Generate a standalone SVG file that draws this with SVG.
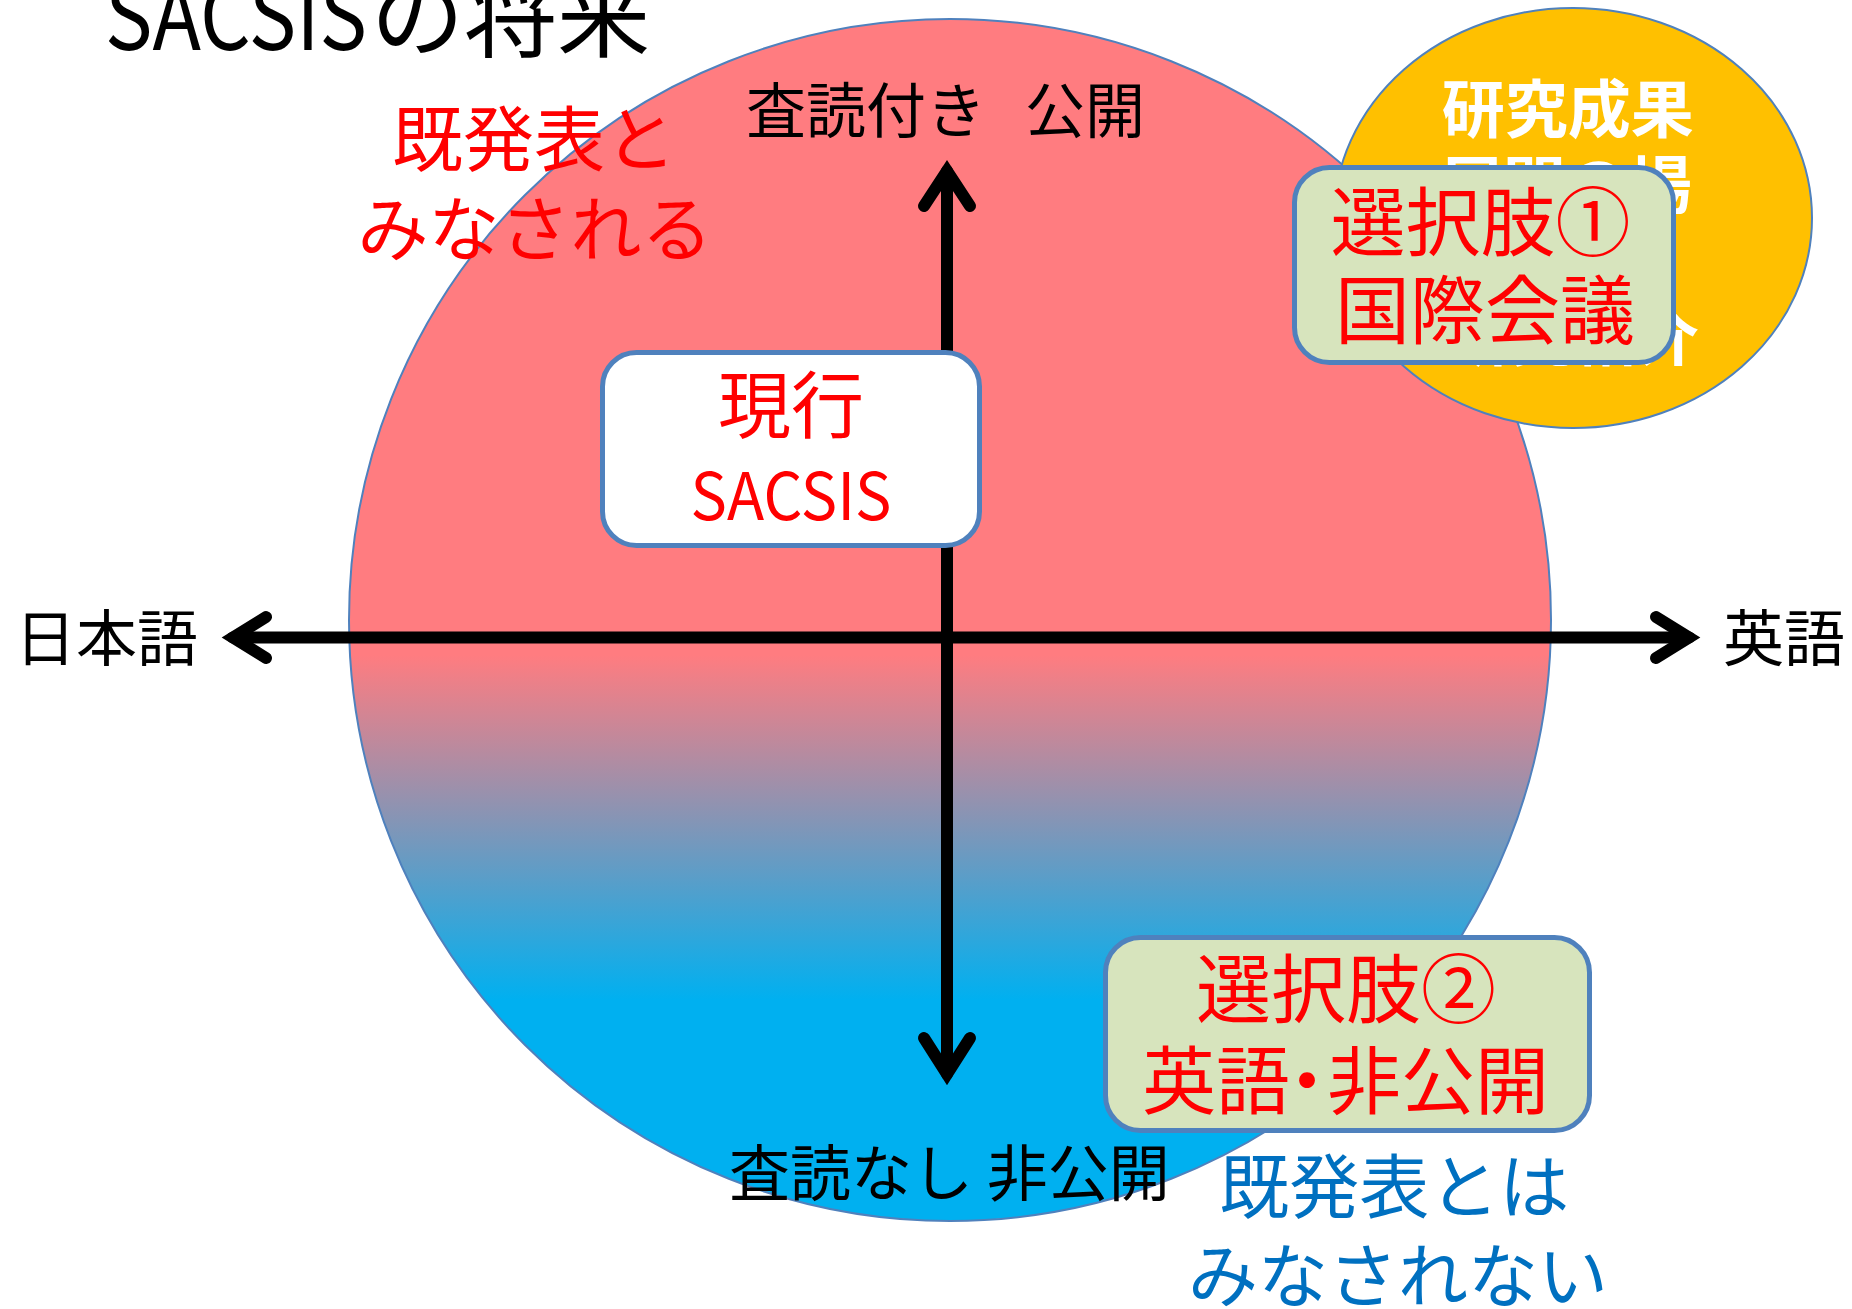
<svg xmlns="http://www.w3.org/2000/svg" width="1852" height="1309" viewBox="0 0 1852 1309">
  <defs>
    <linearGradient id="circleGrad" gradientUnits="userSpaceOnUse" x1="0" y1="655" x2="0" y2="1000">
      <stop offset="0" stop-color="#FF7C80"/>
      <stop offset="1" stop-color="#00B0F0"/>
    </linearGradient>
    <style>
      .t { font-family: "Noto Sans CJK JP", "Noto Sans", sans-serif; }
      .blk { fill: #000000; }
      .red { fill: #FF0000; }
      .blue { fill: #0070C0; }
      .wht { fill: #FFFFFF; font-weight: 700; }
      .mid { text-anchor: middle; }
      .axis { fill: none; stroke: #000000; stroke-width: 12; stroke-linecap: round; stroke-linejoin: miter; }
      .box { stroke: #4F81BD; stroke-width: 5; }
      .thin { stroke: #4F81BD; stroke-width: 2; }
    </style>
  </defs>
  <rect x="0" y="0" width="1852" height="1309" fill="#FFFFFF"/>

  <g id="title">
    <text class="t blk" x="105" y="50" font-size="93"><tspan textLength="262" lengthAdjust="spacingAndGlyphs">SACSIS</tspan><tspan x="371">の将来</tspan></text>
  </g>

  <g id="quadrant-circle">
    <circle cx="950" cy="620" r="601" fill="url(#circleGrad)" class="thin"/>
  </g>

  <g id="research-ellipse">
    <ellipse cx="1573" cy="218" rx="239" ry="210" fill="#FFC000" class="thin"/>
    <text class="t wht mid" font-size="63">
      <tspan x="1575" y="132">研究成果</tspan>
      <tspan x="1573" y="208">展開の場</tspan>
      <tspan x="1573" y="360">研究紹介</tspan>
    </text>
  </g>

  <g id="axes">
    <line class="axis" x1="233" y1="637.5" x2="1689" y2="637.5" stroke-linecap="butt"/>
    <polyline class="axis" points="266,617 233,637.5 266,658"/>
    <polyline class="axis" points="1656,617 1689,637.5 1656,658"/>
    <line class="axis" x1="947" y1="171" x2="947" y2="1074" stroke-linecap="butt"/>
    <polyline class="axis" points="924,206 947,171 970,206"/>
    <polyline class="axis" points="924,1038 947,1074 970,1038"/>
  </g>

  <g id="axis-labels">
    <text class="t blk" x="746" y="133" font-size="60">査読付き <tspan x="1025">公開</tspan></text>
    <text class="t blk" x="729" y="1196" font-size="61">査読なし 非公開</text>
    <text class="t blk" x="15" y="661" font-size="61">日本語</text>
    <text class="t blk" x="1723" y="661" font-size="61">英語</text>
  </g>

  <g id="current-sacsis">
    <rect x="602.5" y="352.5" width="377" height="193" rx="34" fill="#FFFFFF" class="box"/>
    <text class="t red mid" x="791" y="432" font-size="73">現行</text>
    <text class="t red mid" x="791" y="520" font-size="66" textLength="201" lengthAdjust="spacingAndGlyphs">SACSIS</text>
  </g>

  <g id="option1">
    <rect x="1294.5" y="167.5" width="379" height="195" rx="35" fill="#D7E4BD" class="box"/>
    <text class="t red mid" font-size="75">
      <tspan x="1489" y="250">選択肢①</tspan>
      <tspan x="1485" y="338">国際会議</tspan>
    </text>
  </g>

  <g id="option2">
    <rect x="1105.5" y="937.5" width="484" height="193" rx="35" fill="#D7E4BD" class="box"/>
    <text class="t red mid" x="1346" y="1017" font-size="75">選択肢②</text>
    <text class="t red" x="1142" y="1108" font-size="74">英語<tspan dx="-20">・</tspan><tspan dx="-17">非公開</tspan></text>
  </g>

  <g id="note-presented">
    <text class="t red mid" font-size="71">
      <tspan x="542" y="165">既発表と</tspan>
      <tspan x="535" y="255">みなされる</tspan>
    </text>
  </g>

  <g id="note-not-presented">
    <text class="t blue mid" font-size="70">
      <tspan x="1402" y="1213">既発表とは</tspan>
      <tspan x="1398" y="1302">みなされない</tspan>
    </text>
  </g>
</svg>
